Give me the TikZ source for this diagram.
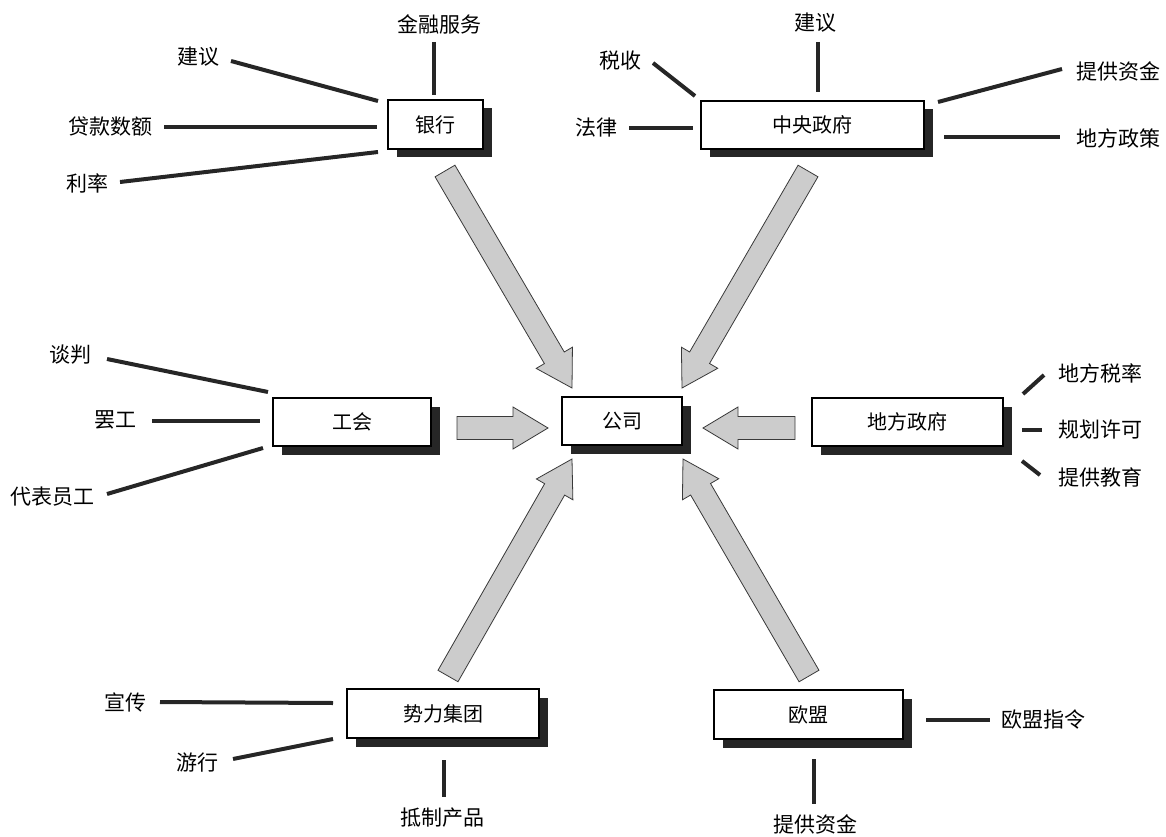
\documentclass[tikz,border=0pt]{standalone}
\usepackage{fontspec}
\setmainfont{Noto Sans CJK SC}
\usetikzlibrary{calc,shadows}
\newcommand{\fatarr}[2]{%
  \draw[fatarrow] let \p1=($(#2)-(#1)$), \n1={atan2(\y1,\x1)}, \n2={veclen(\x1,\y1)-35} in
    ($(#1)+({\n1+90}:11.5)$) -- ($(#1)+(\n1:\n2)+({\n1+90}:11.5)$) -- ($(#1)+(\n1:\n2)+({\n1+90}:21)$) -- (#2)
    -- ($(#1)+(\n1:\n2)+({\n1-90}:21)$) -- ($(#1)+(\n1:\n2)+({\n1-90}:11.5)$) -- ($(#1)+({\n1-90}:11.5)$) -- cycle;}
\begin{document}
\begin{tikzpicture}[x=1pt,y=1pt,
  box/.style={draw=black, line width=1.4pt, fill=white, inner sep=0pt,
    font=\fontsize{20}{24}\selectfont,
    drop shadow={shadow xshift=8.5pt, shadow yshift=-8.5pt, fill=black!85, opacity=1}},
  lab/.style={inner sep=0pt, font=\fontsize{21}{25}\selectfont},
  spoke/.style={line width=4pt, black!85},
  fatarrow/.style={fill=gray!40, draw=gray!45!black, line width=0.8pt, line join=miter}]
\useasboundingbox (0,0) rectangle (1166,-837);

% boxes
\node[box, minimum width=95pt, minimum height=49pt] (bank) at (435.5,-124.5) {银行};
\node[box, minimum width=223pt, minimum height=48pt] (cgov) at (812.5,-125) {中央政府};
\node[box, minimum width=158pt, minimum height=48pt] (union) at (352,-422) {工会};
\node[box, minimum width=120pt, minimum height=48pt] (comp) at (622,-421) {公司};
\node[box, minimum width=191pt, minimum height=48pt] (lgov) at (907.5,-422) {地方政府};
\node[box, minimum width=192pt, minimum height=49pt] (press) at (443,-713.5) {势力集团};
\node[box, minimum width=189pt, minimum height=49pt] (eu) at (808.5,-714.5) {欧盟};

% bank labels
\node[lab] (b1) at (439,-24) {金融服务};
\node[lab] (b2) at (198,-57) {建议};
\node[lab] (b3) at (110,-127) {贷款数额};
\node[lab] (b4) at (87,-183) {利率};
\draw[spoke] (434,-42) -- (434,-95);
\draw[spoke] (231,-61) -- (378,-101);
\draw[spoke] (164,-127) -- (377,-127);
\draw[spoke] (120,-182) -- (378,-152);

% central government labels
\node[lab] (c1) at (815,-23) {建议};
\node[lab] (c2) at (620,-61) {税收};
\node[lab] (c3) at (596,-128) {法律};
\node[lab] (c4) at (1118,-71) {提供资金};
\node[lab] (c5) at (1118,-138) {地方政策};
\draw[spoke] (818,-42) -- (818,-92);
\draw[spoke] (653,-63) -- (695,-96);
\draw[spoke] (629,-128) -- (693,-128);
\draw[spoke] (938,-102) -- (1062,-69);
\draw[spoke] (944,-137) -- (1060,-137);

% union labels
\node[lab] (u1) at (70,-355) {谈判};
\node[lab] (u2) at (115,-420) {罢工};
\node[lab] (u3) at (52,-497) {代表员工};
\draw[spoke] (107,-359) -- (268,-392);
\draw[spoke] (152,-421) -- (260,-421);
\draw[spoke] (107,-494) -- (263,-448);

% local government labels
\node[lab] (l1) at (1100,-373) {地方税率};
\node[lab] (l2) at (1100,-430) {规划许可};
\node[lab] (l3) at (1100,-477) {提供教育};
\draw[spoke] (1023,-394) -- (1044,-375);
\draw[spoke] (1022,-430) -- (1042,-430);
\draw[spoke] (1022,-461) -- (1040,-475);

% pressure group labels
\node[lab] (p1) at (125,-702) {宣传};
\node[lab] (p2) at (197,-763) {游行};
\node[lab] (p3) at (442,-818) {抵制产品};
\draw[spoke] (160,-702) -- (333,-703);
\draw[spoke] (233,-759) -- (333,-739);
\draw[spoke] (444,-760) -- (444,-797);

% EU labels
\node[lab] (e1) at (1043,-720) {欧盟指令};
\node[lab] (e2) at (815,-824) {提供资金};
\draw[spoke] (926,-720) -- (990,-720);
\draw[spoke] (814,-759) -- (814,-804);

% big arrows
\coordinate (abS) at (445,-171);  \coordinate (abE) at (572,-388);
\coordinate (acS) at (808,-171);  \coordinate (acE) at (682,-388);
\coordinate (auS) at (457,-428);  \coordinate (auE) at (548,-428);
\coordinate (alS) at (795,-428);  \coordinate (alE) at (703,-428);
\coordinate (apS) at (448,-676);  \coordinate (apE) at (572,-459);
\coordinate (aeS) at (809,-676);  \coordinate (aeE) at (683,-459);
\fatarr{abS}{abE}
\fatarr{acS}{acE}
\fatarr{auS}{auE}
\fatarr{alS}{alE}
\fatarr{apS}{apE}
\fatarr{aeS}{aeE}
\end{tikzpicture}
\end{document}
